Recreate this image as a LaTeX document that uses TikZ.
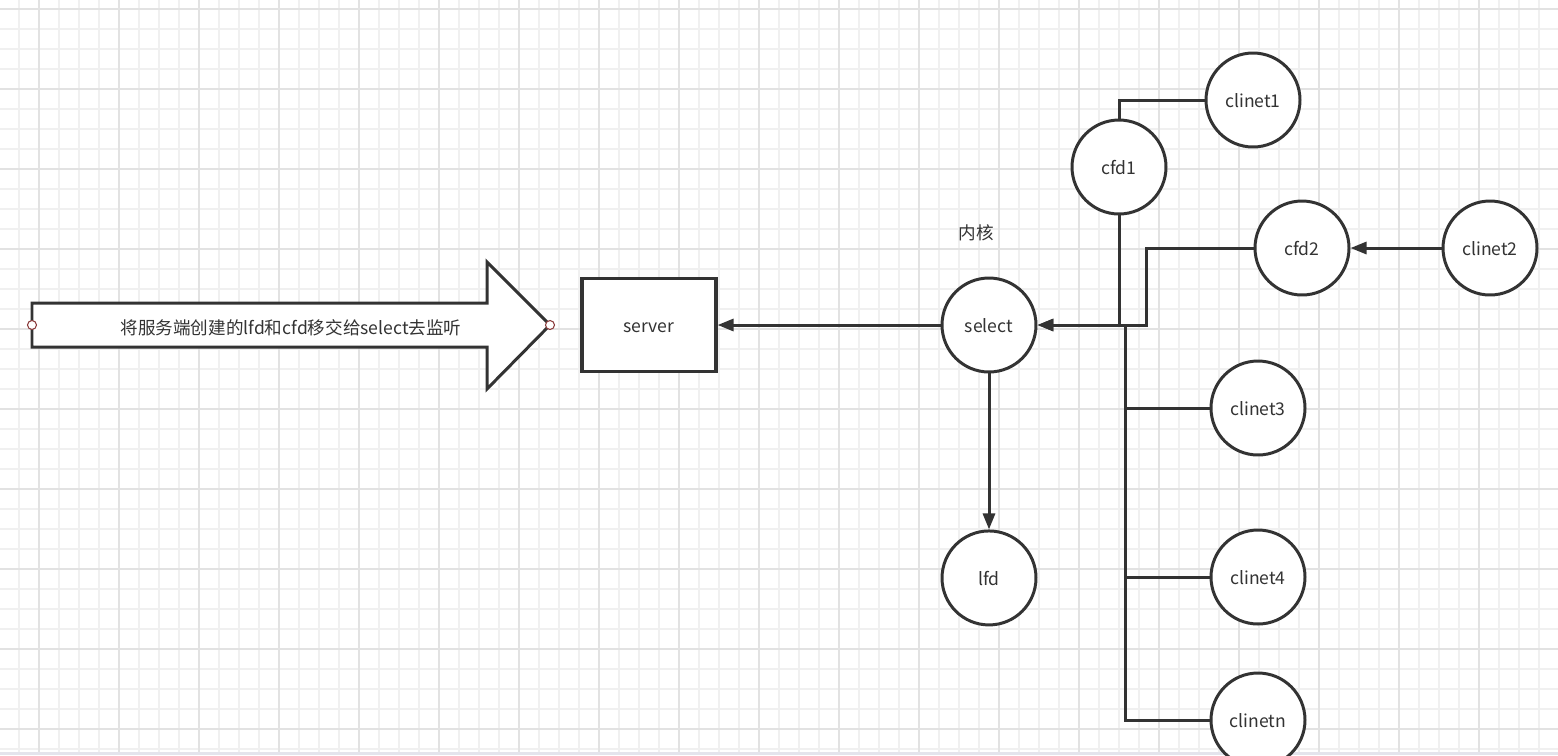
\documentclass[tikz,border=0pt]{standalone}
\usepackage{fontspec}
\setmainfont{Noto Sans CJK SC}
\usepackage{tikz}
\usetikzlibrary{positioning,arrows.meta}
\definecolor{Ink}{HTML}{333333}
\definecolor{GridMinor}{HTML}{F0F0F0}
\definecolor{GridMajor}{HTML}{E2E2E2}
\definecolor{Pin}{HTML}{8A3B3B}
\definecolor{Strip}{HTML}{E4E4EC}

\begin{document}
\begin{tikzpicture}[
    x=0.02cm,y=-0.02cm,
    every node/.style={font=\fontsize{10pt}{12pt}\selectfont\color{Ink}},
    circ/.style={draw=Ink,line width=1.7pt,fill=white,circle,
                 minimum size=1.88cm,inner sep=0pt,text height=0.85em,text depth=0pt},
    box/.style={draw=Ink,line width=1.8pt,fill=white,
                minimum width=2.68cm,minimum height=1.86cm,text height=0.85em,text depth=0pt},
    line/.style={draw=Ink,line width=1.7pt},
    arr/.style={line,-{Triangle[length=0.32cm,width=0.24cm]}},
    pin/.style={draw=Pin,fill=white,circle,inner sep=0pt,minimum size=0.18cm,line width=0.6pt}
  ]
    % background and grid
    \useasboundingbox (0,0) rectangle (1558,755);
    \fill[white] (0,0) rectangle (1558,755);
    \foreach \x in {19,39,...,1558} \draw[GridMinor,line width=0.6pt] (\x,0) -- (\x,755);
    \foreach \y in {9,29,...,755} \draw[GridMinor,line width=0.6pt] (0,\y) -- (1558,\y);
    \foreach \x in {39,119,...,1558} \draw[GridMajor,line width=0.6pt] (\x,0) -- (\x,755);
    \foreach \y in {9,89,...,755} \draw[GridMajor,line width=0.6pt] (0,\y) -- (1558,\y);
    \fill[Strip] (0,752) rectangle (1558,755);

    % big arrow
    \draw[line,fill=white,line join=miter] (32,303) -- (487,303) -- (487,262) -- (550,325)
        -- (487,389) -- (487,347) -- (32,347) -- cycle;
    \node (msg) at (291,328) {将服务端创建的lfd和cfd移交给select去监听};
    \node[pin] (pa) at (32,325) {};
    \node[pin] (pb) at (550,325) {};

    % nodes
    \node[box]  (server) at (649,325) {server};
    \node[circ] (select) at (989,325) {select};
    \node[circ, below=3.12cm of select] (lfd) {lfd};
    \node (kern) at (976,233) {内核};
    \node[circ] (cfd1) at (1119,167) {cfd1};
    \node[circ] (clinet1) at (1253,100) {clinet1};
    \node[circ] (cfd2) at (1302,248) {cfd2};
    \node[circ] (clinet2) at (1490,248) {clinet2};
    \node[circ] (clinet3) at (1258,408) {clinet3};
    \node[circ] (clinet4) at (1258,577) {clinet4};
    \node[circ] (clinetn) at (1258,720) {clinetn};
    \coordinate (bus) at (1125,325);
    \coordinate (j2) at (1146,325);

    % connectors
    \draw[arr] (select) -- (server);
    \draw[arr] (select) -- (lfd);
    \draw[line] (clinet1.west) -| (cfd1.north);
    \draw[arr] (cfd1.south) |- (select.east);
    \draw[arr] (cfd2.west) -| (j2) -- (select.east);
    \draw[arr] (clinet2) -- (cfd2);
    \draw[line] (bus) |- (clinet3.west);
    \draw[line] (bus) |- (clinet4.west);
    \draw[line] (bus) |- (clinetn.west);
  \end{tikzpicture}
\end{document}
